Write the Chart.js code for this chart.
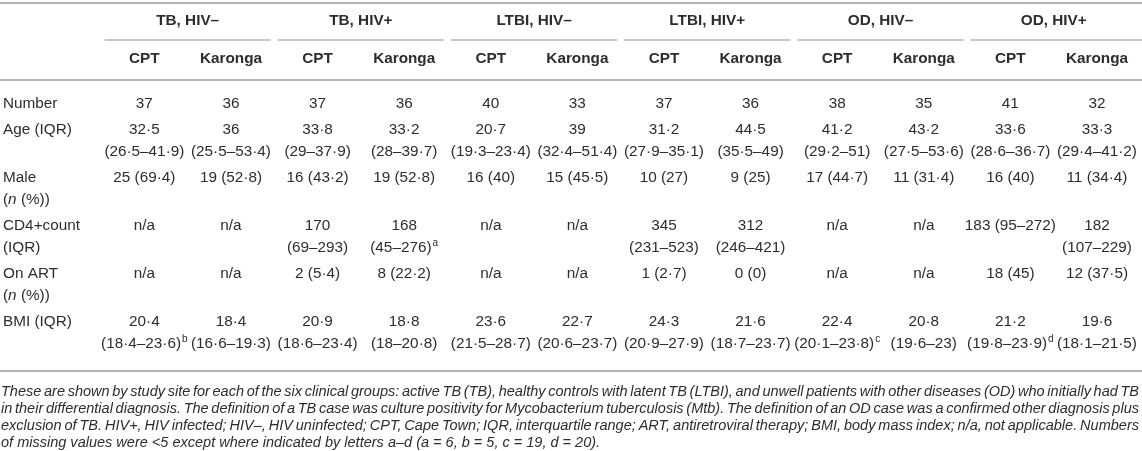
<!DOCTYPE html>
<html><head><meta charset="utf-8">
<script src="https://cdn.jsdelivr.net/npm/chart.js@4.4.1/dist/chart.umd.min.js"></script>
<style>html,body{margin:0;padding:0;background:#fff;overflow:hidden}canvas{display:block}</style>
</head><body>
<canvas id="c" width="1142" height="451"></canvas>
<script>
// ---------- DATA ----------
const groups = ["TB, HIV–", "TB, HIV+", "LTBI, HIV–", "LTBI, HIV+", "OD, HIV–", "OD, HIV+"];
const sites = ["CPT", "Karonga"];
const rowLabels = [["Number"], ["Age (IQR)"], ["Male", "(*n* (%))"], ["CD4+count", "(IQR)"], ["On ART", "(*n* (%))"], ["BMI (IQR)"]];
const numberRow = ["37", "36", "37", "36", "40", "33", "37", "36", "38", "35", "41", "32"];
const ageRow = ["32·5\n(26·5–41·9)", "36\n(25·5–53·4)", "33·8\n(29–37·9)", "33·2\n(28–39·7)", "20·7\n(19·3–23·4)", "39\n(32·4–51·4)", "31·2\n(27·9–35·1)", "44·5\n(35·5–49)", "41·2\n(29·2–51)", "43·2\n(27·5–53·6)", "33·6\n(28·6–36·7)", "33·3\n(29·4–41·2)"];
const maleRow = ["25 (69·4)", "19 (52·8)", "16 (43·2)", "19 (52·8)", "16 (40)", "15 (45·5)", "10 (27)", "9 (25)", "17 (44·7)", "11 (31·4)", "16 (40)", "11 (34·4)"];
const cd4Row = ["n/a", "n/a", "170\n(69–293)", "168\n(45–276)^a", "n/a", "n/a", "345\n(231–523)", "312\n(246–421)", "n/a", "n/a", "183 (95–272)", "182\n(107–229)"];
const artRow = ["n/a", "n/a", "2 (5·4)", "8 (22·2)", "n/a", "n/a", "1 (2·7)", "0 (0)", "n/a", "n/a", "18 (45)", "12 (37·5)"];
const bmiRow = ["20·4\n(18·4–23·6)^b", "18·4\n(16·6–19·3)", "20·9\n(18·6–23·4)", "18·8\n(18–20·8)", "23·6\n(21·5–28·7)", "22·7\n(20·6–23·7)", "24·3\n(20·9–27·9)", "21·6\n(18·7–23·7)", "22·4\n(20·1–23·8)^c", "20·8\n(19·6–23)", "21·2\n(19·8–23·9)^d", "19·6\n(18·1–21·5)"];
const footnoteLines = [
  "These are shown by study site for each of the six clinical groups: active TB (TB), healthy controls with latent TB (LTBI), and unwell patients with other diseases (OD) who initially had TB",
  "in their differential diagnosis. The definition of a TB case was culture positivity for Mycobacterium tuberculosis (Mtb). The definition of an OD case was a confirmed other diagnosis plus",
  "exclusion of TB. HIV+, HIV infected; HIV–, HIV uninfected; CPT, Cape Town; IQR, interquartile range; ART, antiretroviral therapy; BMI, body mass index; n/a, not applicable. Numbers",
  "of missing values were <5 except where indicated by letters a–d (a = 6, b = 5, c = 19, d = 20)."
];

// ---------- LAYOUT (scale units: one unit = one text line) ----------
const FONT = '"Liberation Sans", Arial, Helvetica, sans-serif';
const TEXT = '#2d2d2d';
const RULE = '#b5b5b5';
const BODY_PX = 15.3;
const ROW_PAD = 0.133;
const Y_TOP_RULE = -4.49, Y_GROUP = -3.69, Y_GROUP_RULE = -2.84, Y_SITE = -2.0, Y_HEAD_RULE = -1.07;
const Y_BOTTOM_RULE = 11.87, Y_FOOT = 12.8, FOOT_STEP = 0.756;
const X_LABEL = -1.632;

const bodyRows = [numberRow, ageRow, maleRow, cd4Row, artRow, bmiRow];

// build points
const labelPts = [], cellPts = [], groupPts = [], sitePts = [];
let line = 0;
bodyRows.forEach((row, r) => {
  const base = line + r * ROW_PAD;
  let span = rowLabels[r].length;
  rowLabels[r].forEach((t, k) => labelPts.push({x: X_LABEL, y: base + k, t}));
  row.forEach((v, c) => {
    const parts = v.split('\n');
    span = Math.max(span, parts.length);
    parts.forEach((t, k) => cellPts.push({x: c, y: base + k, t}));
  });
  line += span;
});
groups.forEach((g, i) => {
  groupPts.push({x: 2 * i + 0.5, y: Y_GROUP, t: g});
  sites.forEach((s, j) => sitePts.push({x: 2 * i + j, y: Y_SITE, t: s}));
});

function drawRich(ctx, text, x, y, align, bold) {
  let sup = null;
  const m = text.match(/\^(\w)$/);
  if (m) { sup = m[1]; text = text.slice(0, -2); }
  const segs = text.split('*').map((s, i) => ({s, it: i % 2 === 1}));
  const f = (it, size, b) => `${it ? 'italic ' : ''}${b ? 'bold ' : ''}${size}px ${FONT}`;
  let w = 0;
  segs.forEach(sg => { ctx.font = f(sg.it, BODY_PX, bold); sg.w = ctx.measureText(sg.s).width; w += sg.w; });
  let sw = 0;
  if (sup) { ctx.font = f(false, 10, false); sw = ctx.measureText(sup).width + 1; }
  let sx = align === 'center' ? x - (w + sw) / 2 : x;
  ctx.textAlign = 'left';
  ctx.textBaseline = 'middle';
  segs.forEach(sg => { ctx.font = f(sg.it, BODY_PX, bold); ctx.fillText(sg.s, sx, y); sx += sg.w; });
  if (sup) { ctx.font = f(false, 10, false); ctx.fillText(sup, sx + 1, y - 5); }
}

const tablePlugin = {
  id: 'tablePlugin',
  beforeDatasetsDraw(chart) {
    const {ctx, scales: {x, y}, chartArea: ca} = chart;
    ctx.save();
    ctx.strokeStyle = RULE;
    const hline = (yv, x0, x1, lw) => {
      ctx.lineWidth = lw;
      const py = y.getPixelForValue(yv);
      ctx.beginPath(); ctx.moveTo(x0, py); ctx.lineTo(x1, py); ctx.stroke();
    };
    hline(Y_TOP_RULE, ca.left, ca.right, 2);
    hline(Y_HEAD_RULE, ca.left, ca.right, 2);
    hline(Y_BOTTOM_RULE, ca.left, ca.right, 2);
    groups.forEach((g, i) => {
      const x0 = x.getPixelForValue(2 * i - 0.5) + 3.5;
      const x1 = x.getPixelForValue(2 * i + 1.5) - 3.5;
      hline(Y_GROUP_RULE, x0, i === groups.length - 1 ? ca.right : x1, 1.5);
    });
    ctx.restore();
  },
  afterDatasetsDraw(chart) {
    const {ctx, scales: {x, y}, chartArea: ca} = chart;
    ctx.save();
    ctx.fillStyle = TEXT;
    chart.data.datasets.forEach((ds, i) => {
      const meta = chart.getDatasetMeta(i);
      meta.data.forEach((el, j) => {
        drawRich(ctx, ds.data[j].t, el.x, el.y, ds.textAlign, ds.bold);
      });
    });
    // footnote, justified
    const target = 600;
    ctx.font = `italic 14px ${FONT}`;
    const fs = 14 * target / ctx.measureText(footnoteLines[3]).width;
    ctx.font = `italic ${fs}px ${FONT}`;
    ctx.textBaseline = 'middle';
    ctx.textAlign = 'left';
    const fullW = ca.right - ca.left - 4;
    footnoteLines.forEach((ln, k) => {
      const py = y.getPixelForValue(Y_FOOT + k * FOOT_STEP);
      const words = ln.split(' ');
      if (k < footnoteLines.length - 1) {
        const ww = words.map(wd => ctx.measureText(wd).width);
        const tot = ww.reduce((a, b) => a + b, 0);
        const gap = (fullW - tot) / (words.length - 1);
        let px = ca.left + 1;
        words.forEach((wd, n) => { ctx.fillText(wd, px, py); px += ww[n] + gap; });
      } else {
        ctx.fillText(ln, ca.left + 1, py);
      }
    });
    ctx.restore();
  }
};

const mk = (data, align, bold) => ({data, textAlign: align, bold, pointRadius: 0, pointHoverRadius: 0, showLine: false});

new Chart(document.getElementById('c'), {
  type: 'scatter',
  data: {datasets: [mk(groupPts, 'center', true), mk(sitePts, 'center', true), mk(labelPts, 'left', false), mk(cellPts, 'center', false)]},
  options: {
    responsive: false,
    animation: false,
    layout: {padding: 0},
    plugins: {legend: {display: false}, tooltip: {enabled: false}},
    events: [],
    scales: {
      x: {type: 'linear', display: false, min: -1.667, max: 11.52},
      y: {type: 'linear', display: false, reverse: true, min: -4.622, max: 15.422}
    }
  },
  plugins: [tablePlugin]
});
</script>
</body></html>
